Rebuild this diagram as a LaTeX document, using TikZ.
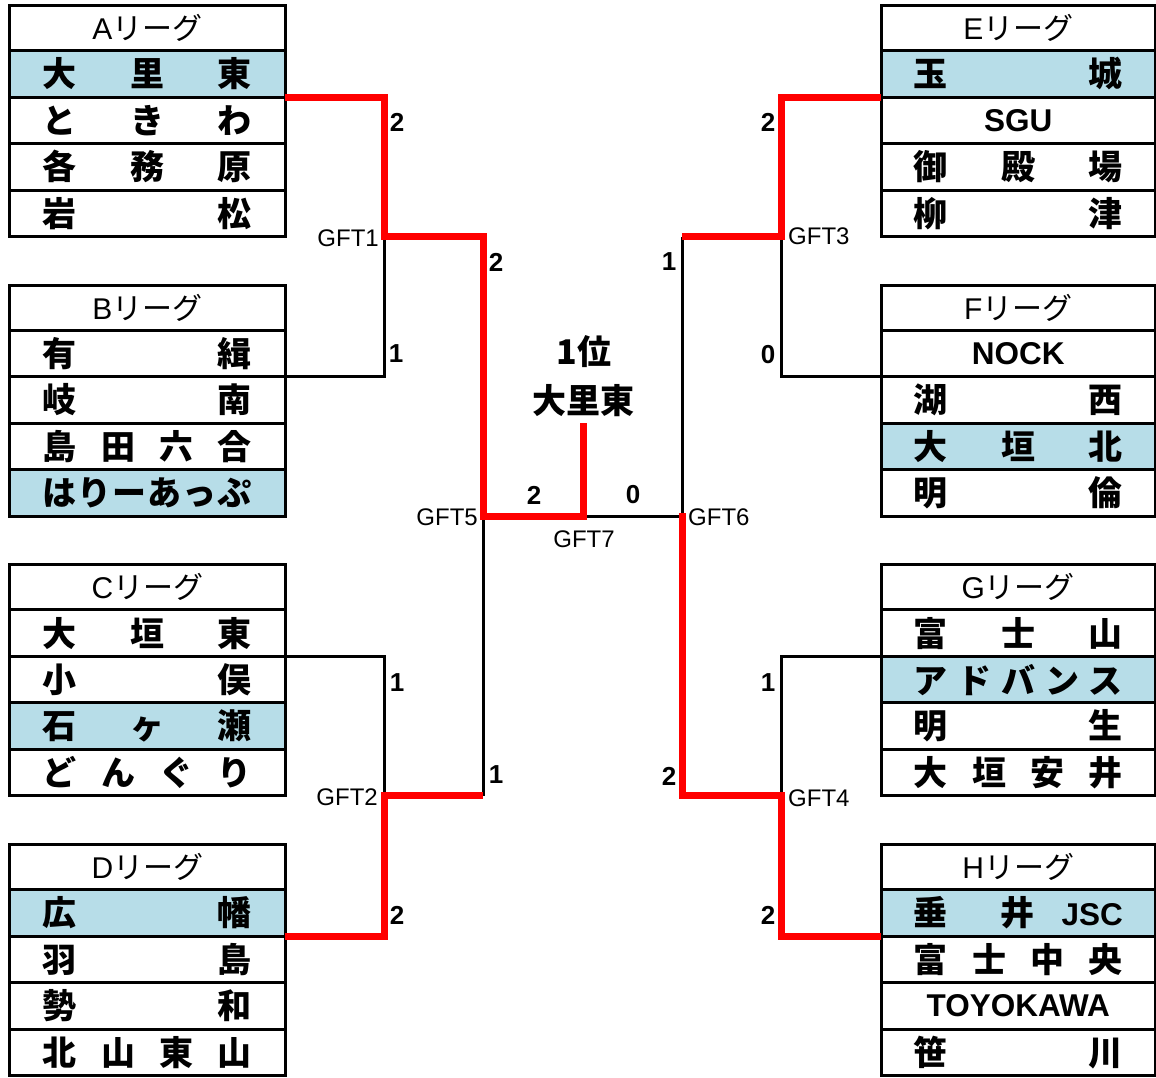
\documentclass[tikz,border=0pt]{standalone}
\usepackage{fontspec}
\setmainfont{Liberation Sans}
\newfontfamily\jp{Noto Sans CJK JP}
\newfontfamily\latf{Liberation Sans}
\definecolor{hlblue}{HTML}{B7DDE8}
\definecolor{winred}{HTML}{FF0000}
\newlength\distw \setlength\distw{209pt}
\newcommand\dist[1]{\makebox[\distw][s]{#1}}
\newcommand\latn[1]{{\latf\bfseries\fontsize{31.5}{31.5}\selectfont #1}}
\begin{document}
\begin{tikzpicture}[x=1pt,y=-1pt,
  cell/.style={draw=black, line width=3pt, inner sep=0pt, outer sep=0pt, minimum height=46.5pt},
  lcell/.style={cell, minimum width=275.5pt},
  rcell/.style={cell, minimum width=274pt},
  hdr/.style={minimum height=45pt, font=\latf\fontsize{30}{30}\selectfont},
  team/.style={font=\jp\bfseries\fontsize{34}{34}\selectfont},
  hl/.style={fill=hlblue},
  link/.style={line width=3pt, draw=black},
  win/.style={line width=7pt, draw=winred, line join=miter},
  gft/.style={font=\latf\fontsize{24}{24}\selectfont, inner sep=0pt},
  score/.style={font=\latf\bfseries\fontsize{26}{26}\selectfont, inner sep=0pt},
  champ/.style={font=\jp\bfseries\fontsize{34}{34}\selectfont, inner sep=0pt},
]
\useasboundingbox (0,0) rectangle (1156,1077);

% ---------------- left tables ----------------
\node[lcell,hdr] (tA-h) at (147.4,28) {A{\jp リーグ}};
\node[lcell,team,hl] (tA-1) at (147.4,73.75) {\dist{大\hfill 里\hfill 東}};
\node[lcell,team] (tA-2) at (147.4,120.25) {\dist{と\hfill き\hfill わ}};
\node[lcell,team] (tA-3) at (147.4,166.75) {\dist{各\hfill 務\hfill 原}};
\node[lcell,team] (tA-4) at (147.4,213.25) {\dist{岩\hfill 松}};

\node[lcell,hdr] (tB-h) at (147.4,307.7) {B{\jp リーグ}};
\node[lcell,team] (tB-1) at (147.4,353.45) {\dist{有\hfill 緝}};
\node[lcell,team] (tB-2) at (147.4,399.95) {\dist{岐\hfill 南}};
\node[lcell,team] (tB-3) at (147.4,446.45) {\dist{島\hfill 田\hfill 六\hfill 合}};
\node[lcell,team,hl] (tB-4) at (147.4,492.95) {\dist{は\hfill り\hfill ー\hfill あ\hfill っ\hfill ぷ}};

\node[lcell,hdr] (tC-h) at (147.4,587.4) {C{\jp リーグ}};
\node[lcell,team] (tC-1) at (147.4,633.15) {\dist{大\hfill 垣\hfill 東}};
\node[lcell,team] (tC-2) at (147.4,679.65) {\dist{小\hfill 俣}};
\node[lcell,team,hl] (tC-3) at (147.4,726.15) {\dist{石\hfill ヶ\hfill 瀬}};
\node[lcell,team] (tC-4) at (147.4,772.65) {\dist{ど\hfill ん\hfill ぐ\hfill り}};

\node[lcell,hdr] (tD-h) at (147.4,867.1) {D{\jp リーグ}};
\node[lcell,team,hl] (tD-1) at (147.4,912.85) {\dist{広\hfill 幡}};
\node[lcell,team] (tD-2) at (147.4,959.35) {\dist{羽\hfill 島}};
\node[lcell,team] (tD-3) at (147.4,1005.85) {\dist{勢\hfill 和}};
\node[lcell,team] (tD-4) at (147.4,1052.35) {\dist{北\hfill 山\hfill 東\hfill 山}};

% ---------------- right tables ----------------
\node[rcell,hdr] (tE-h) at (1018.3,28) {E{\jp リーグ}};
\node[rcell,team,hl] (tE-1) at (1018.3,73.75) {\dist{玉\hfill 城}};
\node[rcell,team] (tE-2) at (1018.3,120.25) {\latn{SGU}};
\node[rcell,team] (tE-3) at (1018.3,166.75) {\dist{御\hfill 殿\hfill 場}};
\node[rcell,team] (tE-4) at (1018.3,213.25) {\dist{柳\hfill 津}};

\node[rcell,hdr] (tF-h) at (1018.3,307.7) {F{\jp リーグ}};
\node[rcell,team] (tF-1) at (1018.3,353.45) {\latn{NOCK}};
\node[rcell,team] (tF-2) at (1018.3,399.95) {\dist{湖\hfill 西}};
\node[rcell,team,hl] (tF-3) at (1018.3,446.45) {\dist{大\hfill 垣\hfill 北}};
\node[rcell,team] (tF-4) at (1018.3,492.95) {\dist{明\hfill 倫}};

\node[rcell,hdr] (tG-h) at (1018.3,587.4) {G{\jp リーグ}};
\node[rcell,team] (tG-1) at (1018.3,633.15) {\dist{富\hfill 士\hfill 山}};
\node[rcell,team,hl] (tG-2) at (1018.3,679.65) {\dist{ア\hfill ド\hfill バ\hfill ン\hfill ス}};
\node[rcell,team] (tG-3) at (1018.3,726.15) {\dist{明\hfill 生}};
\node[rcell,team] (tG-4) at (1018.3,772.65) {\dist{大\hfill 垣\hfill 安\hfill 井}};

\node[rcell,hdr] (tH-h) at (1018.3,867.1) {H{\jp リーグ}};
\node[rcell,team,hl] (tH-1) at (1018.3,912.85) {\dist{垂\hfill\hfill 井\hfill \latn{JSC}}};
\node[rcell,team] (tH-2) at (1018.3,959.35) {\dist{富\hfill 士\hfill 中\hfill 央}};
\node[rcell,team] (tH-3) at (1018.3,1005.85) {\latn{TOYOKAWA}};
\node[rcell,team] (tH-4) at (1018.3,1052.35) {\dist{笹\hfill 川}};

% ---------------- bracket junctions ----------------
\coordinate (xl1) at (384,0);
\coordinate (xl2) at (483.3,0);
\coordinate (xc) at (583.3,0);
\coordinate (xr2) at (682.3,0);
\coordinate (xr1) at (781.7,0);
\coordinate (g1) at (xl1 |- tA-4.south);
\coordinate (g2) at (xl1 |- tC-4.south);
\coordinate (g5) at (xl2 |- tB-4.south);
\coordinate (g2in) at (xl2 |- tC-4.south);
\coordinate (g7) at (xc |- tB-4.south);
\coordinate (g6) at (xr2 |- tF-4.south);
\coordinate (g3) at (xr1 |- tE-4.south);
\coordinate (g4) at (xr1 |- tG-4.south);
\coordinate (g3in) at (xr2 |- tE-4.south);
\coordinate (g4in) at (xr2 |- tG-4.south);
\coordinate (champ) at (xc |- tB-2.south);
\coordinate (g6top) at ([yshift=3.5pt]g6);

% ---------------- black connectors ----------------
\draw[link] (tB-1.south east) -| (g1);
\draw[link] (tC-1.south east) -| (g2);
\draw[link] (g5) -- (g2in);
\draw[link] (tF-1.south west) -| (g3);
\draw[link] (tG-1.south west) -| (g4);
\draw[link] (g3in) -- (g6) -- (g7);

% ---------------- red winner paths ----------------
\draw[win] (tA-1.south east) -| (g1) -| (g5) -- (g7) -- (champ);
\draw[win] (tD-1.south east) -| (g2) -- (g2in);
\draw[win] (tE-1.south west) -| (g3) -- (g3in);
\draw[win] (tH-1.south west) -| (g4) -- (g4in) -- (g6top);

% ---------------- match labels ----------------
\node[gft, anchor=east] (lg1) at (379,238) {GFT1};
\node[gft, anchor=east] (lg2) at (378,797.5) {GFT2};
\node[gft, anchor=west] (lg3) at (788,236.5) {GFT3};
\node[gft, anchor=west] (lg4) at (788,798) {GFT4};
\node[gft, anchor=east] (lg5) at (478,517.5) {GFT5};
\node[gft, anchor=west] (lg6) at (688,517.5) {GFT6};
\node[gft] (lg7) at (584,539.5) {GFT7};

% ---------------- scores ----------------
\node[score] (sA) at (397,122) {2};
\node[score] (sB) at (396,354) {1};
\node[score] (sC) at (397,683) {1};
\node[score] (sD) at (397,915) {2};
\node[score] (s1) at (496,262) {2};
\node[score] (s2) at (496,775) {1};
\node[score] (sE) at (768,122) {2};
\node[score] (sF) at (768,355) {0};
\node[score] (sG) at (768,683) {1};
\node[score] (sH) at (768,915) {2};
\node[score] (s3) at (669,262) {1};
\node[score] (s4) at (669,776) {2};
\node[score] (s5) at (534,495) {2};
\node[score] (s6) at (633,495) {0};

% ---------------- champion ----------------
\node[champ] (c1) at (584,352) {1位};
\node[champ] (c2) at (583.5,401) {大里東};
\end{tikzpicture}
\end{document}
